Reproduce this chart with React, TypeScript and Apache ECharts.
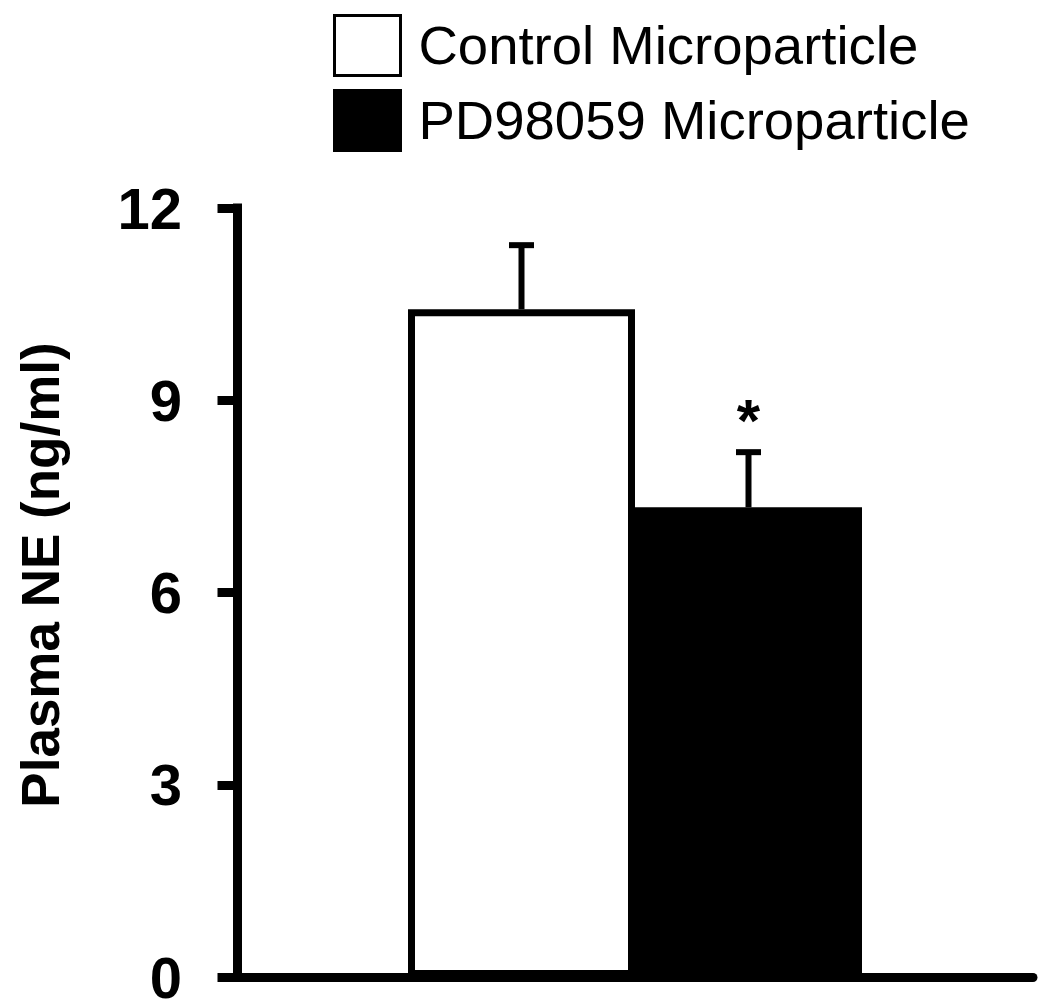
import React, { useEffect, useRef } from "react";
import * as echarts from "echarts";

const categories = [""];
const seriesNames = ["Control Microparticle", "PD98059 Microparticle"];
const means = [10.42, 7.33];
const errors = [1.0, 0.86];
const significance = ["", "*"];
const yName = "Plasma NE (ng/ml)";

const FONT = "'Liberation Sans', Arial, Helvetica, sans-serif";
const BAR_WIDTH = 227;

export default function App() {
  const ref = useRef<HTMLDivElement>(null);

  useEffect(() => {
    const chart = echarts.init(ref.current!, null, { renderer: "svg" });
    const option: any = {
      animation: false,
      backgroundColor: "#ffffff",
      grid: { left: 237, right: 17, top: 208, bottom: 31 },
      legend: {
        orient: "vertical",
        left: 328,
        top: 9,
        itemWidth: 66,
        itemHeight: 60,
        itemGap: 12,
        icon: "rect",
        selectedMode: false,
        itemStyle: { borderWidth: 3, borderColor: "#000" },
        textStyle: {
          fontSize: 54.5,
          lineHeight: 60,
          color: "#000",
          fontFamily: FONT,
          padding: [0, 0, 0, 13],
        },
        data: seriesNames,
      },
      xAxis: {
        type: "category",
        data: categories,
        axisLine: { show: true, lineStyle: { color: "#000", width: 9 } },
        axisTick: { show: false },
        axisLabel: { show: false },
        splitLine: { show: false },
      },
      yAxis: {
        type: "value",
        min: 0,
        max: 12,
        interval: 3,
        axisLine: { show: true, lineStyle: { color: "#000", width: 9, cap: "square" } },
        axisTick: { show: true, length: 15, lineStyle: { color: "#000", width: 9, cap: "square" } },
        axisLabel: {
          margin: 55,
          fontSize: 58,
          lineHeight: 46,
          padding: [0, 0, 10, 0],
          fontWeight: "bold",
          color: "#000",
          fontFamily: FONT,
        },
        splitLine: { show: false },
      },
      graphic: [
        {
          type: "text",
          x: 40,
          y: 575,
          rotation: Math.PI / 2,
          style: {
            text: yName,
            fontSize: 53,
            fontWeight: "bold",
            fontFamily: FONT,
            fill: "#000",
            textAlign: "center",
            textVerticalAlign: "middle",
          },
        },
      ],
      series: [
        {
          type: "bar",
          name: seriesNames[0],
          data: [means[0]],
          barWidth: BAR_WIDTH,
          barGap: "0%",
          itemStyle: { color: "#ffffff", borderColor: "#000", borderWidth: 7 },
          z: 2,
        },
        {
          type: "bar",
          name: seriesNames[1],
          data: [means[1]],
          barWidth: BAR_WIDTH,
          barGap: "0%",
          itemStyle: { color: "#000000", borderColor: "#000", borderWidth: 0 },
          z: 1,
        },
        {
          type: "custom",
          z: 5,
          data: means.map((m, i) => [0, m, errors[i], i]),
          renderItem: (params: any, api: any) => {
            const idx = api.value(3);
            const base = api.coord([api.value(0), api.value(1)]);
            const top = api.coord([api.value(0), api.value(1) + api.value(2)]);
            const x = base[0] + (idx === 0 ? -BAR_WIDTH / 2 : BAR_WIDTH / 2);
            const children: any[] = [
              {
                type: "line",
                shape: { x1: x, y1: base[1], x2: x, y2: top[1] },
                style: { stroke: "#000", lineWidth: 6 },
              },
              {
                type: "line",
                shape: { x1: x - 12.5, y1: top[1], x2: x + 12.5, y2: top[1] },
                style: { stroke: "#000", lineWidth: 6 },
              },
            ];
            const sig = significance[idx];
            if (sig) {
              children.push({
                type: "text",
                x: x,
                y: top[1] - 32,
                style: {
                  text: sig,
                  fontSize: 60,
                  fontWeight: "bold",
                  fontFamily: FONT,
                  fill: "#000",
                  textAlign: "center",
                  textVerticalAlign: "middle",
                },
              });
            }
            return { type: "group", children };
          },
        },
      ],
    };
    chart.setOption(option);
    return () => chart.dispose();
  }, []);

  return (
    <div
      ref={ref}
      style={{ position: "fixed", left: 0, top: 0, width: 1050, height: 1008 }}
    />
  );
}
